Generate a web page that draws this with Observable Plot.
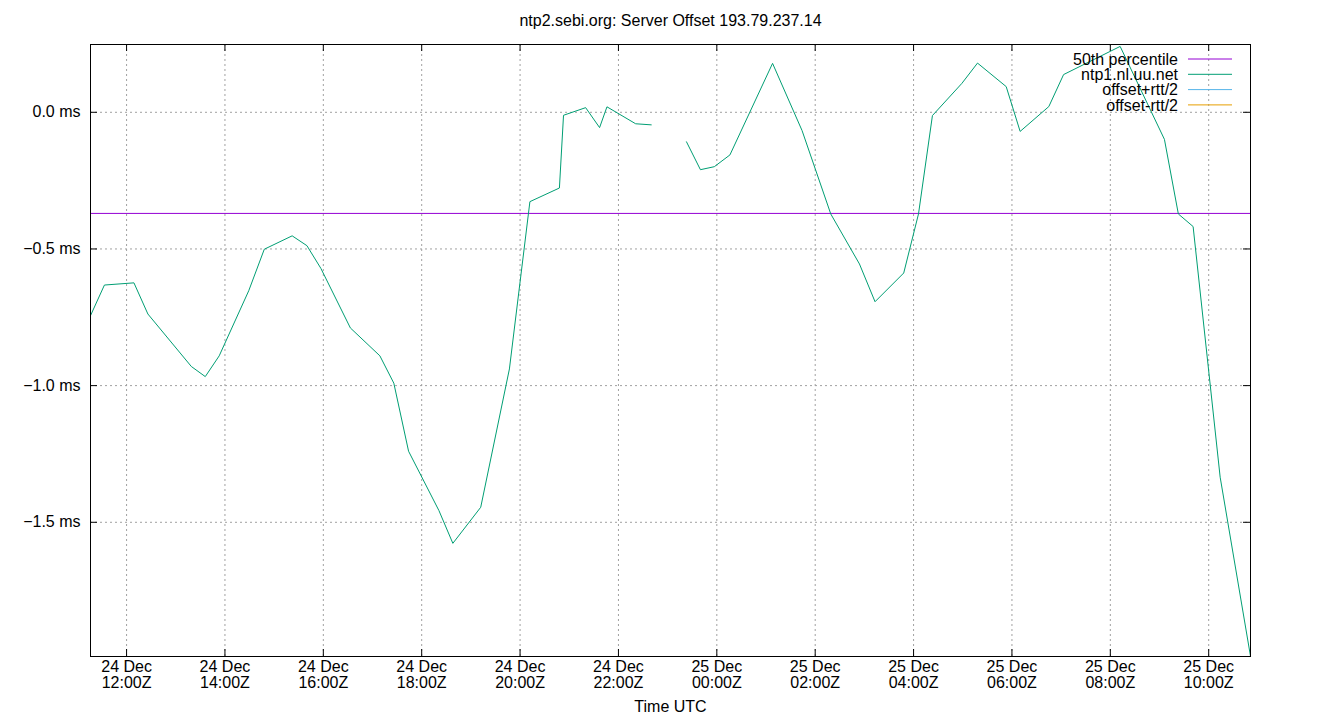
<!DOCTYPE html>
<html>
<head>
<meta charset="utf-8">
<script src="https://cdn.jsdelivr.net/npm/d3@7"></script>
<script src="https://cdn.jsdelivr.net/npm/@observablehq/plot@0.6"></script>
<style>
  html, body { margin: 0; padding: 0; background: #fff; }
</style>
</head>
<body>
<div id="chart"></div>
<script>
const chartTitle = "ntp2.sebi.org: Server Offset 193.79.237.14";
const xLabel = "Time UTC";

// Sample times (UTC); null value marks a gap in the data
const times = [
  "2023-12-24T11:16Z","2023-12-24T11:33Z","2023-12-24T12:09Z","2023-12-24T12:26Z",
  "2023-12-24T13:19Z","2023-12-24T13:36Z","2023-12-24T13:53Z","2023-12-24T14:29Z",
  "2023-12-24T14:48Z","2023-12-24T15:22Z","2023-12-24T15:40Z","2023-12-24T15:57Z",
  "2023-12-24T16:33Z","2023-12-24T17:09Z","2023-12-24T17:26Z","2023-12-24T17:44Z",
  "2023-12-24T18:21Z","2023-12-24T18:38Z","2023-12-24T19:12Z","2023-12-24T19:47Z",
  "2023-12-24T20:12Z","2023-12-24T20:48Z","2023-12-24T20:53Z","2023-12-24T21:20Z",
  "2023-12-24T21:37Z","2023-12-24T21:46Z","2023-12-24T22:21Z","2023-12-24T22:40Z",
  "2023-12-24T23:00Z",
  "2023-12-24T23:23Z","2023-12-24T23:40Z","2023-12-24T23:57Z","2023-12-25T00:16Z",
  "2023-12-25T01:08Z","2023-12-25T01:44Z","2023-12-25T02:19Z","2023-12-25T02:54Z",
  "2023-12-25T03:13Z","2023-12-25T03:48Z","2023-12-25T04:06Z","2023-12-25T04:23Z",
  "2023-12-25T04:59Z","2023-12-25T05:18Z","2023-12-25T05:53Z","2023-12-25T06:10Z",
  "2023-12-25T06:45Z","2023-12-25T07:03Z","2023-12-25T08:12Z","2023-12-25T09:06Z",
  "2023-12-25T09:23Z","2023-12-25T09:41Z","2023-12-25T10:14Z","2023-12-25T10:51Z"
];
// Offset of ntp1.nl.uu.net in ms
const offsets = [
  -0.744,-0.632,-0.624,-0.738,
  -0.930,-0.967,-0.891,-0.653,
  -0.501,-0.452,-0.488,-0.571,
  -0.789,-0.891,-0.991,-1.240,
  -1.457,-1.577,-1.445,-0.939,
  -0.327,-0.277,-0.011,0.017,
  -0.056,0.020,-0.042,-0.046,
  null,
  -0.108,-0.210,-0.199,-0.156,
  0.179,-0.067,-0.372,-0.555,
  -0.693,-0.588,-0.372,-0.012,
  0.106,0.180,0.094,-0.070,
  0.021,0.138,0.241,-0.099,
  -0.372,-0.418,-1.335,-1.990
];
const medianOffset = -0.370;
const yDomain = [-1.991, 0.248];
const yTickValues = [0, -0.5, -1.0, -1.5];
const xTickTimes = [
  "2023-12-24T12:00Z","2023-12-24T14:00Z","2023-12-24T16:00Z","2023-12-24T18:00Z",
  "2023-12-24T20:00Z","2023-12-24T22:00Z","2023-12-25T00:00Z","2023-12-25T02:00Z",
  "2023-12-25T04:00Z","2023-12-25T06:00Z","2023-12-25T08:00Z","2023-12-25T10:00Z"
];
const legendLabels = ["50th percentile","ntp1.nl.uu.net","offset+rtt/2","offset-rtt/2"];
const legendColors = ["#9400d3","#009e73","#56b4e9","#e69f00"];

const data = times.map((t, i) => ({time: new Date(t), offset: offsets[i]}));
const xTicks = xTickTimes.map(t => new Date(t));
const validData = data.filter(d => d.offset != null);
const xDomain = d3.extent(validData, d => d.time);

const W = 1340, H = 720;
const mL = 90, mR = 90, mT = 44, mB = 64;
const fw = W - mL - mR, fh = H - mT - mB;
const tickLen = 7;
const FS = 16;
const gridStyle = {stroke: "#a0a0a0", strokeWidth: 1, strokeDasharray: "2,3", strokeOpacity: 1};

const fmt = d3.utcFormat("%d %b\n%H:%MZ");

const plot = Plot.plot({
  width: W,
  height: H,
  marginLeft: mL,
  marginRight: mR,
  marginTop: mT,
  marginBottom: mB,
  style: {fontFamily: "'Liberation Sans', Arial, sans-serif", fontSize: FS + "px", background: "#fff", color: "#000"},
  x: {type: "utc", domain: xDomain},
  y: {domain: yDomain},
  marks: [
    // grid
    Plot.ruleX(xTicks, {x: d => d, ...gridStyle}),
    Plot.ruleY(yTickValues, {y: d => d, ...gridStyle}),
    // inward ticks (bottom/top/left/right)
    Plot.ruleX(xTicks, {x: d => d, insetTop: fh - tickLen, stroke: "#000"}),
    Plot.ruleX(xTicks, {x: d => d, insetBottom: fh - tickLen, stroke: "#000"}),
    Plot.ruleY(yTickValues, {y: d => d, insetRight: fw - tickLen, stroke: "#000"}),
    Plot.ruleY(yTickValues, {y: d => d, insetLeft: fw - tickLen, stroke: "#000"}),
    // axes labels
    Plot.axisX(xTicks, {tickSize: 0, tickPadding: 4, tickFormat: fmt, fontSize: FS, lineHeight: 1.0, label: null}),
    Plot.axisY(yTickValues, {tickSize: 0, tickPadding: 10, tickFormat: d => d3.format(".1f")(d) + " ms", fontSize: FS, label: null}),
    // median
    Plot.ruleY([medianOffset], {stroke: legendColors[0], strokeWidth: 1}),
    // series
    Plot.line(data, {x: "time", y: "offset", stroke: legendColors[1], strokeWidth: 1, curve: "linear"}),
    // frame
    Plot.frame({stroke: "#000", strokeWidth: 1}),
    // title and x label
    Plot.text([chartTitle], {frameAnchor: "top", dy: -24, text: d => d, fontSize: FS, lineAnchor: "middle"}),
    Plot.text([xLabel], {frameAnchor: "bottom", dy: 50, text: d => d, fontSize: FS, lineAnchor: "middle"})
  ]
});

// Legend (top-right inside the frame)
const svg = d3.select(plot);
const lg = svg.append("g").attr("font-family", "'Liberation Sans', Arial, sans-serif").attr("font-size", FS);
legendLabels.forEach((lab, i) => {
  const y = 59 + i * 15.3;
  lg.append("text").attr("x", 1178).attr("y", y).attr("dy", "0.35em")
    .attr("text-anchor", "end").attr("fill", "#000").text(lab);
  lg.append("line").attr("x1", 1188).attr("x2", 1232).attr("y1", y).attr("y2", y)
    .attr("stroke", legendColors[i]).attr("stroke-width", 1);
});

document.getElementById("chart").appendChild(plot);
</script>
</body>
</html>
